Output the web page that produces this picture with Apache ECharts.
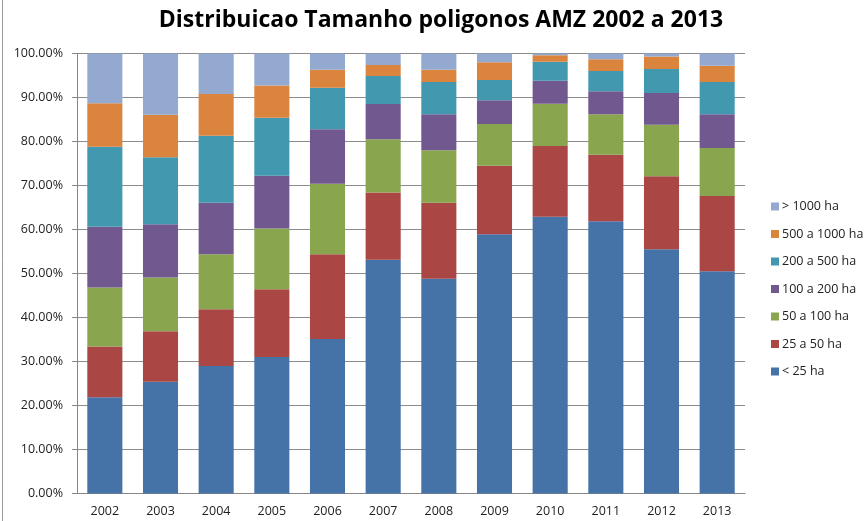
<!DOCTYPE html>
<html>
<head>
<meta charset="utf-8">
<script src="https://cdn.jsdelivr.net/npm/echarts@6/dist/echarts.min.js"></script>
<style>
  html, body { margin: 0; padding: 0; background: #fff; }
  #chart { width: 866px; height: 521px; }
</style>
</head>
<body>
<div id="chart"></div>
<script>
// Share of polygons per size class (%), one value per year
const years = ['2002','2003','2004','2005','2006','2007','2008','2009','2010','2011','2012','2013'];
const lt25     = [21.9, 25.4, 29.0, 31.0, 35.1, 53.1, 48.8, 58.9, 62.9, 61.9, 55.5, 50.5];
const s25to50  = [11.5, 11.5, 12.9, 15.4, 19.3, 15.3, 17.3, 15.6, 16.1, 15.1, 16.6, 17.1];
const s50to100 = [13.4, 12.2, 12.5, 13.8, 16.0, 12.1, 11.9,  9.5,  9.6,  9.2, 11.7, 10.9];
const s100to200= [13.8, 12.1, 11.7, 12.0, 12.4,  8.0,  8.2,  5.4,  5.2,  5.2,  7.2,  7.7];
const s200to500= [18.2, 15.2, 15.2, 13.2,  9.4,  6.4,  7.3,  4.6,  4.3,  4.6,  5.5,  7.3];
const s500to1000=[ 9.9,  9.7,  9.5,  7.3,  4.1,  2.5,  2.8,  4.0,  1.5,  2.7,  2.8,  3.7];
const gt1000   = [11.3, 13.9,  9.2,  7.3,  3.7,  2.6,  3.7,  2.0,  0.4,  1.3,  0.7,  2.8];
const yTicks = [0, 10, 20, 30, 40, 50, 60, 70, 80, 90, 100];

const seriesDefs = [
  { name: '< 25 ha',        data: lt25,       color: '#4572A7' },
  { name: '25 a 50 ha',     data: s25to50,    color: '#AA4643' },
  { name: '50 a 100 ha',    data: s50to100,   color: '#89A54E' },
  { name: '100 a 200 ha',   data: s100to200,  color: '#71588F' },
  { name: '200 a 500 ha',   data: s200to500,  color: '#4198AF' },
  { name: '500 a 1000 ha',  data: s500to1000, color: '#DB843D' },
  { name: '> 1000 ha',      data: gt1000,     color: '#93A9CF' }
];

const font = '"Open Sans", "DejaVu Sans", sans-serif';
const chart = echarts.init(document.getElementById('chart'), null, { renderer: 'canvas' });

chart.setOption({
  backgroundColor: '#ffffff',
  animation: false,
  title: {
    text: 'Distribuicao Tamanho poligonos AMZ 2002 a 2013',
    left: 436, top: 4, textAlign: 'center',
    textStyle: { fontFamily: font, fontSize: 23, fontWeight: 'bold', color: '#000' }
  },
  legend: {
    orient: 'vertical',
    left: 766, top: 195,
    itemWidth: 8, itemHeight: 8, itemGap: 14.5,
    icon: 'rect',
    data: seriesDefs.map(s => s.name).reverse(),
    textStyle: { fontFamily: font, fontSize: 12.5, color: '#222', padding: [0, 0, 0, -2] }
  },
  grid: { left: 77, right: 121, top: 53.5, bottom: 27.5, containLabel: false },
  xAxis: {
    type: 'category',
    data: years,
    axisLine: { lineStyle: { color: '#868686', width: 1 } },
    axisTick: { show: false },
    axisLabel: { fontFamily: font, fontSize: 12.5, color: '#222', margin: 11 }
  },
  yAxis: {
    type: 'value',
    min: 0, max: 100, interval: 10,
    axisLine: { show: true, lineStyle: { color: '#868686', width: 1 } },
    axisTick: { show: true, length: 5, lineStyle: { color: '#868686' } },
    splitLine: { lineStyle: { color: '#8c8c8c', width: 1 } },
    axisLabel: {
      fontFamily: font, fontSize: 12.5, color: '#222', margin: 14,
      formatter: v => yTicks.includes(v) ? v.toFixed(2) + '%' : ''
    }
  },
  series: seriesDefs.map(s => ({
    name: s.name,
    type: 'bar',
    stack: 'total',
    barWidth: '63%',
    data: s.data,
    itemStyle: { color: s.color }
  })),
  graphic: [
    { type: 'line', shape: { x1: 2.5, y1: 0, x2: 2.5, y2: 521 }, style: { stroke: '#9a9a9a', lineWidth: 1 } }
  ]
});
</script>
</body>
</html>
